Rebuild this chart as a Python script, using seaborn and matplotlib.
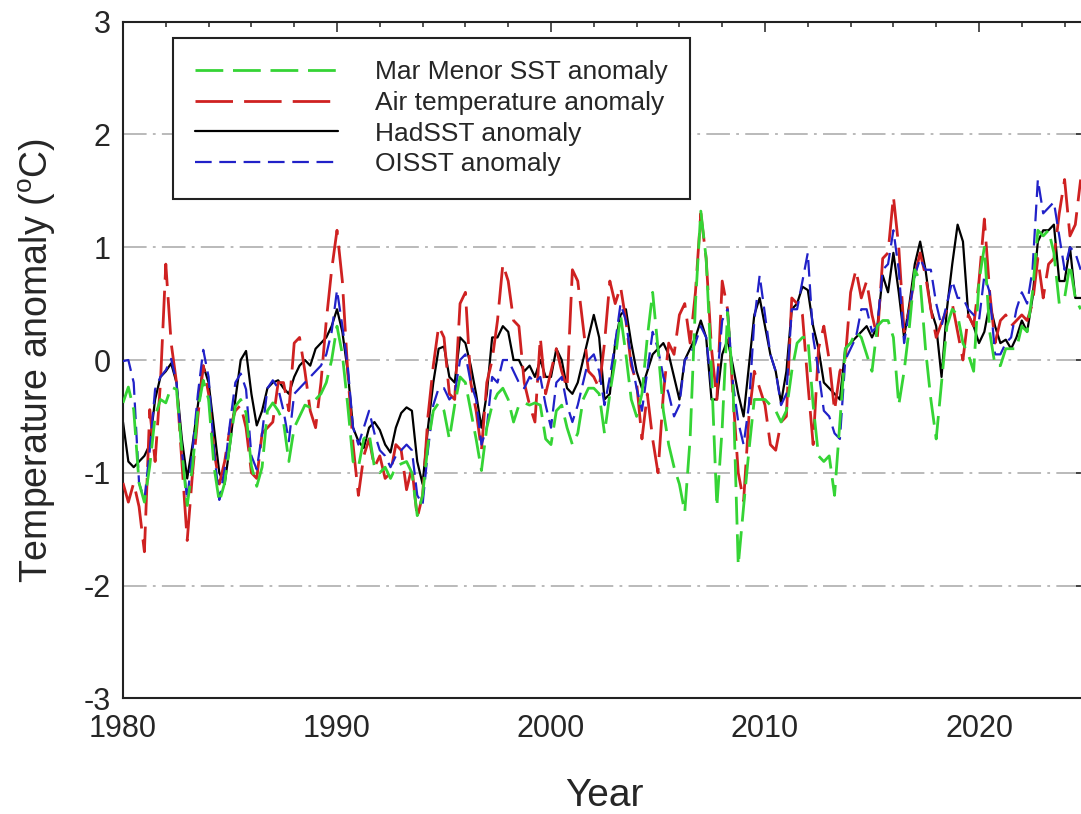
import numpy as np
import pandas as pd
import matplotlib
matplotlib.use("Agg")
import matplotlib.pyplot as plt
from matplotlib.ticker import MultipleLocator
import seaborn as sns

# Quarterly anomaly series (deg C), 1980.00 ... 2024.75, four values per year
mar_menor_sst = [
    -0.38, -0.24, -0.44, -1.09,   # 1980
    -1.26, -0.94, -0.50, -0.35,   # 1981
    -0.38, -0.24, -0.26, -0.80,   # 1982
    -1.29, -0.94, -0.44, -0.18,   # 1983
    -0.35, -0.94, -1.26, -1.09,   # 1984
    -0.74, -0.41, -0.35, -0.47,   # 1985
    -0.94, -1.12, -0.95, -0.45,   # 1986
    -0.38, -0.45, -0.55, -0.90,   # 1987
    -0.60, -0.50, -0.40, -0.42,   # 1988
    -0.35, -0.30, -0.20, 0.00,    # 1989
    0.30, 0.05, -0.40, -0.90,     # 1990
    -0.95, -0.70, -0.65, -0.95,   # 1991
    -1.00, -0.95, -1.05, -0.95,   # 1992
    -0.92, -0.90, -1.00, -1.38,   # 1993
    -1.20, -0.75, -0.45, -0.38,   # 1994
    -0.45, -0.70, -0.40, -0.15,   # 1995
    -0.20, -0.45, -0.70, -0.98,   # 1996
    -0.60, -0.40, -0.30, -0.25,   # 1997
    -0.35, -0.55, -0.40, -0.38,   # 1998
    -0.40, -0.38, -0.40, -0.70,   # 1999
    -0.75, -0.45, -0.40, -0.60,   # 2000
    -0.75, -0.65, -0.35, -0.25,   # 2001
    -0.25, -0.30, -0.65, -0.30,   # 2002
    0.00, 0.40, 0.05, -0.35,      # 2003
    -0.50, -0.30, 0.20, 0.60,     # 2004
    0.10, -0.45, -0.75, -0.95,    # 2005
    -1.10, -1.35, -0.70, 0.50,    # 2006
    1.32, 0.90, -0.10, -1.30,     # 2007
    -0.60, 0.42, -0.20, -1.82,    # 2008
    -1.30, -0.80, -0.35, -0.35,   # 2009
    -0.35, -0.40, -0.45, -0.55,   # 2010
    -0.45, -0.10, 0.15, 0.20,     # 2011
    0.20, -0.40, -0.85, -0.90,    # 2012
    -0.85, -1.20, -0.55, 0.10,    # 2013
    0.15, 0.25, 0.20, 0.05,       # 2014
    -0.10, 0.30, 0.35, 0.35,      # 2015
    0.20, -0.40, -0.10, 0.30,     # 2016
    0.80, 0.70, 0.10, -0.35,      # 2017
    -0.70, -0.20, 0.30, 0.45,     # 2018
    0.40, 0.15, 0.05, -0.10,      # 2019
    0.70, 1.00, 0.25, -0.05,      # 2020
    -0.05, 0.10, 0.10, 0.10,      # 2021
    0.30, 0.25, 0.60, 1.15,       # 2022
    1.10, 1.15, 0.95, 0.50,       # 2023
    0.55, 0.85, 0.55, 0.45,       # 2024
]

air_temperature = [
    -1.09, -1.26, -1.09, -1.30,   # 1980
    -1.70, -0.44, -0.90, -0.20,   # 1981
    0.85, 0.15, -0.20, -0.90,     # 1982
    -1.60, -1.00, -0.50, -0.05,   # 1983
    -0.30, -0.80, -1.10, -0.90,   # 1984
    -0.60, -0.45, -0.40, -0.60,   # 1985
    -1.00, -1.05, -0.65, -0.60,   # 1986
    -0.55, -0.20, -0.20, -0.45,   # 1987
    0.15, 0.20, -0.10, -0.45,     # 1988
    -0.60, -0.20, 0.35, 0.80,     # 1989
    1.15, 0.70, -0.10, -0.75,     # 1990
    -1.20, -0.85, -0.70, -0.95,   # 1991
    -0.85, -1.05, -1.00, -0.75,   # 1992
    -0.80, -1.15, -0.95, -1.40,   # 1993
    -1.20, -0.50, -0.05, 0.30,    # 1994
    0.20, -0.30, -0.35, 0.50,     # 1995
    0.60, -0.20, -0.45, -0.80,    # 1996
    -0.20, 0.00, 0.35, 0.85,      # 1997
    0.70, 0.35, 0.30, -0.20,      # 1998
    -0.40, -0.55, 0.20, -0.30,    # 1999
    -0.10, 0.10, -0.10, -0.25,    # 2000
    0.80, 0.70, 0.30, -0.10,      # 2001
    -0.15, -0.25, 0.15, 0.70,     # 2002
    0.50, 0.65, 0.35, -0.05,      # 2003
    -0.20, -0.70, -0.30, -0.70,   # 2004
    -1.00, -0.30, 0.15, 0.05,     # 2005
    0.40, 0.50, 0.15, 0.60,       # 2006
    1.30, 0.90, 0.10, -0.35,      # 2007
    0.70, 0.45, -0.30, -1.00,     # 2008
    -1.25, -0.50, -0.10, -0.25,   # 2009
    -0.40, -0.75, -0.80, -0.55,   # 2010
    -0.50, 0.55, 0.50, 0.40,      # 2011
    -0.20, -0.75, 0.10, 0.30,     # 2012
    0.00, -0.45, -0.10, 0.00,     # 2013
    0.60, 0.80, 0.55, 0.70,       # 2014
    0.40, 0.20, 0.90, 0.95,       # 2015
    1.45, 1.00, 0.25, 0.45,       # 2016
    0.75, 0.95, 0.75, 0.45,       # 2017
    0.20, 0.33, 0.45, 0.50,       # 2018
    0.25, 0.00, 0.40, 0.30,       # 2019
    0.70, 1.25, 0.60, 0.15,       # 2020
    0.35, 0.40, 0.30, 0.35,       # 2021
    0.40, 0.35, 0.50, 0.90,       # 2022
    0.55, 0.85, 0.90, 1.30,       # 2023
    1.60, 1.10, 1.20, 1.60,       # 2024
]

hadsst = [
    -0.55, -0.90, -0.95, -0.90,   # 1980
    -0.85, -0.75, -0.35, -0.15,   # 1981
    -0.10, -0.03, -0.20, -0.70,   # 1982
    -1.05, -0.75, -0.40, -0.05,   # 1983
    -0.20, -0.60, -1.00, -1.10,   # 1984
    -0.75, -0.35, 0.00, 0.08,     # 1985
    -0.30, -0.58, -0.45, -0.25,   # 1986
    -0.20, -0.18, -0.25, -0.30,   # 1987
    -0.15, -0.05, 0.00, -0.05,    # 1988
    0.10, 0.15, 0.20, 0.30,       # 1989
    0.45, 0.25, -0.10, -0.60,     # 1990
    -0.72, -0.78, -0.60, -0.55,   # 1991
    -0.62, -0.75, -0.82, -0.60,   # 1992
    -0.47, -0.42, -0.45, -0.90,   # 1993
    -1.10, -0.60, -0.20, 0.10,    # 1994
    0.12, -0.15, -0.20, 0.20,     # 1995
    0.15, -0.05, -0.30, -0.60,    # 1996
    -0.30, 0.20, 0.20, 0.30,      # 1997
    0.25, 0.00, 0.00, -0.10,      # 1998
    -0.05, -0.15, 0.00, -0.15,    # 1999
    -0.15, 0.10, 0.00, -0.25,     # 2000
    -0.30, -0.20, 0.00, 0.20,     # 2001
    0.40, 0.20, -0.35, -0.30,     # 2002
    0.15, 0.40, 0.45, 0.15,       # 2003
    -0.10, -0.25, -0.10, 0.05,    # 2004
    0.10, 0.15, 0.05, -0.15,      # 2005
    -0.35, 0.00, 0.10, 0.20,      # 2006
    0.35, 0.20, -0.35, -0.35,     # 2007
    0.05, 0.18, -0.05, -0.30,     # 2008
    -0.50, -0.05, 0.40, 0.55,     # 2009
    0.30, 0.05, -0.10, -0.38,     # 2010
    -0.10, 0.45, 0.50, 0.65,      # 2011
    0.62, 0.30, 0.10, -0.20,      # 2012
    -0.25, -0.30, -0.35, 0.10,    # 2013
    0.15, 0.20, 0.25, 0.30,       # 2014
    0.20, 0.30, 0.75, 0.60,       # 2015
    0.95, 0.60, 0.20, 0.50,       # 2016
    0.85, 1.05, 0.80, 0.45,       # 2017
    0.30, -0.15, 0.45, 0.85,      # 2018
    1.20, 1.05, 0.40, 0.30,       # 2019
    0.15, 0.25, 0.50, 0.30,       # 2020
    0.15, 0.18, 0.10, 0.20,       # 2021
    0.35, 0.25, 0.55, 1.05,       # 2022
    1.15, 1.15, 1.20, 0.70,       # 2023
    0.70, 1.00, 0.55, 0.55,       # 2024
]

oisst = [
    -0.01, 0.00, -0.20, -1.09,    # 1980
    -1.24, -0.80, -0.26, -0.15,   # 1981
    -0.09, 0.01, -0.20, -0.80,    # 1982
    -1.24, -0.80, -0.30, 0.09,    # 1983
    -0.15, -0.80, -1.24, -0.97,   # 1984
    -0.56, -0.20, -0.12, -0.26,   # 1985
    -0.85, -0.97, -0.65, -0.25,   # 1986
    -0.18, -0.25, -0.45, -0.72,   # 1987
    -0.30, -0.25, -0.20, -0.15,   # 1988
    -0.10, -0.05, 0.05, 0.25,     # 1989
    0.62, 0.30, -0.05, -0.60,     # 1990
    -0.75, -0.60, -0.45, -0.65,   # 1991
    -0.80, -0.85, -0.95, -0.85,   # 1992
    -0.80, -0.75, -0.80, -1.20,   # 1993
    -1.28, -0.80, -0.40, -0.25,   # 1994
    -0.25, -0.35, -0.30, 0.00,    # 1995
    0.05, -0.20, -0.35, -0.75,    # 1996
    -0.60, -0.15, -0.20, 0.00,    # 1997
    0.00, -0.10, -0.20, -0.25,    # 1998
    -0.15, -0.20, -0.15, -0.40,   # 1999
    -0.60, -0.20, -0.15, -0.40,   # 2000
    -0.55, -0.40, -0.20, 0.00,    # 2001
    0.05, -0.10, -0.40, -0.15,    # 2002
    0.15, 0.50, 0.35, 0.00,       # 2003
    -0.25, -0.45, -0.10, 0.25,    # 2004
    0.10, -0.15, -0.30, -0.50,    # 2005
    -0.40, 0.00, 0.05, 0.15,      # 2006
    0.30, 0.20, -0.25, -0.20,     # 2007
    0.35, 0.45, -0.20, -0.55,     # 2008
    -0.75, -0.40, 0.35, 0.75,     # 2009
    0.40, 0.05, -0.10, -0.40,     # 2010
    -0.30, 0.45, 0.45, 0.70,      # 2011
    0.95, 0.20, -0.10, -0.45,     # 2012
    -0.50, -0.65, -0.70, 0.00,    # 2013
    0.10, 0.20, 0.45, 0.45,       # 2014
    0.25, 0.30, 0.80, 0.85,       # 2015
    1.15, 0.80, 0.15, 0.45,       # 2016
    0.75, 0.90, 0.80, 0.80,       # 2017
    0.50, 0.30, 0.50, 0.70,       # 2018
    0.55, 0.55, 0.45, 0.40,       # 2019
    0.35, 0.75, 0.60, 0.05,       # 2020
    0.05, 0.15, 0.20, 0.45,       # 2021
    0.60, 0.50, 0.80, 1.60,       # 2022
    1.30, 1.35, 1.40, 1.10,       # 2023
    0.80, 1.00, 0.95, 0.80,       # 2024
]

years = 1980 + 0.25 * np.arange(len(hadsst))

series_labels = ["Mar Menor SST anomaly", "Air temperature anomaly",
                 "HadSST anomaly", "OISST anomaly"]
series_values = [mar_menor_sst, air_temperature, hadsst, oisst]

df = pd.concat(
    [pd.DataFrame({"Year": years, "Anomaly": vals, "Series": lab})
     for lab, vals in zip(series_labels, series_values)],
    ignore_index=True,
)

sns.set_theme(style="white")
plt.rcParams["font.family"] = ["Liberation Sans", "DejaVu Sans"]
plt.rcParams["mathtext.fontset"] = "custom"
plt.rcParams["mathtext.rm"] = "Liberation Sans"
plt.rcParams["mathtext.it"] = "Liberation Sans:italic"
plt.rcParams["lines.scale_dashes"] = False
plt.rcParams["axes.unicode_minus"] = False

styles = {
    "Mar Menor SST anomaly": dict(color="#35d435", lw=2.0, ls=(0, (20, 7)), z=5),
    "Air temperature anomaly": dict(color="#cf2121", lw=2.0, ls=(0, (27, 8)), z=3),
    "HadSST anomaly": dict(color="black", lw=1.6, ls="-", z=2),
    "OISST anomaly": dict(color="#2121c8", lw=1.6, ls=(0, (12, 5.5)), z=4),
}

fig = plt.figure(figsize=(10.81, 8.14), dpi=100)
ax = fig.add_axes([123 / 1081, (814 - 698.4) / 814, 963 / 1081, 676.8 / 814])

handles = {}
for lab in series_labels:
    st = styles[lab]
    sns.lineplot(data=df[df["Series"] == lab], x="Year", y="Anomaly",
                 ax=ax, color=st["color"], linewidth=st["lw"],
                 linestyle=st["ls"], zorder=st["z"], estimator=None,
                 legend=False, label=lab)
    handles[lab] = ax.lines[-1]

ax.set_xlim(1980, 2025)
ax.set_ylim(-3, 3)
ax.set_xticks(np.arange(1980, 2021, 10))
ax.xaxis.set_minor_locator(MultipleLocator(2))
ax.set_yticks(np.arange(-3, 4, 1))

ax.tick_params(which="both", direction="in", top=True, right=True,
               labelsize=22, color="#222222", width=1.1)
ax.tick_params(which="major", length=7)
ax.tick_params(which="minor", length=3.6)
ax.tick_params(axis="x", pad=11)
ax.tick_params(axis="y", pad=9)

ax.yaxis.grid(True, color="#b4b4b4", linewidth=1.3,
              linestyle=(0, (17, 4.5, 2, 4.5)))
ax.xaxis.grid(False)
ax.set_axisbelow(True)

for sp in ax.spines.values():
    sp.set_visible(True)
    sp.set_color("#222222")
    sp.set_linewidth(1.5)

ax.set_xlabel("Year", fontsize=28)
ax.set_ylabel(r"Temperature anomaly ($^{\mathrm{o}}$C)", fontsize=27)
ax.xaxis.set_label_coords(0.5, -0.118)
ax.yaxis.set_label_coords(-0.067, 0.5)

leg = ax.legend([handles[l] for l in series_labels], series_labels,
                loc="upper left", bbox_to_anchor=(0.0519, 0.9758),
                fontsize=19, frameon=True, fancybox=False,
                edgecolor="#222222", facecolor="white", framealpha=1,
                handlelength=5.4, handletextpad=1.4, labelspacing=0.25,
                borderpad=0.85, borderaxespad=0)
leg.get_frame().set_linewidth(1.5)
leg.set_zorder(10)

fig.savefig("out.png", dpi=100)
